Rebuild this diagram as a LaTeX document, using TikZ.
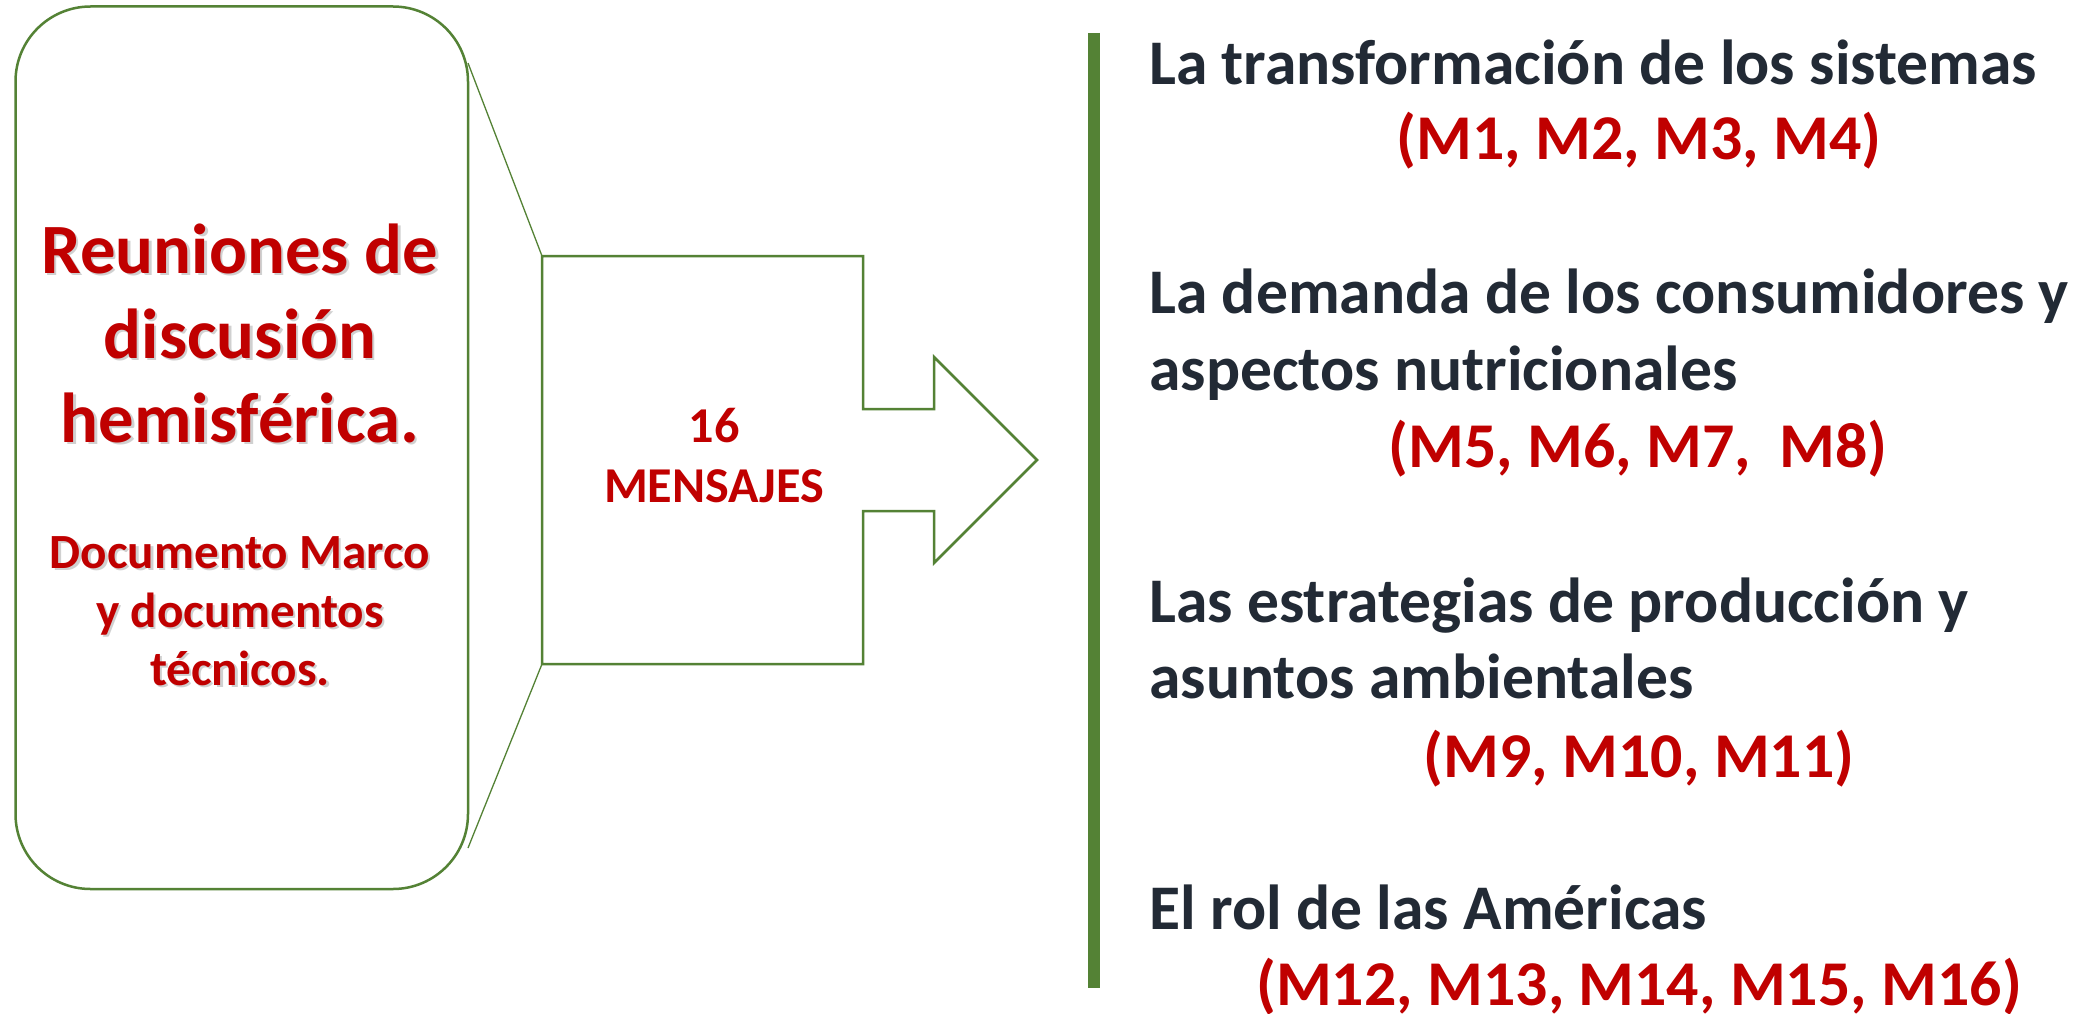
\documentclass[tikz,border=0pt]{standalone}
\usepackage{fontspec}
\setmainfont{Carlito}
\definecolor{redtxt}{HTML}{C00000}
\definecolor{darktxt}{HTML}{222A35}
\definecolor{grn}{HTML}{548235}
\newcommand{\shline}[4]{%
  \node[#3, text=black!60, opacity=0.3, xshift=2.2pt, yshift=-2.2pt] at (#2) {#4};
  \node[#3] (#1) at (#2) {#4};}
\begin{document}
\begin{tikzpicture}[x=1pt,y=-1pt,
  outl/.style={draw=grn, line width=2.5pt, line join=miter},
  thinl/.style={draw=grn, line width=1.3pt},
  redbig/.style={font=\fontsize{70.7}{85}\selectfont\bfseries, text=redtxt, anchor=base, inner sep=0pt},
  redmid/.style={font=\fontsize{49.2}{60}\selectfont\bfseries, text=redtxt, anchor=base, inner sep=0pt},
  redarr/.style={font=\fontsize{50.2}{61}\selectfont\bfseries, text=redtxt, anchor=base, inner sep=0pt},
  darkline/.style={font=\fontsize{63.6}{77}\selectfont\bfseries, text=darktxt, anchor=base west, inner sep=0pt},
  redlist/.style={font=\fontsize{63.8}{77}\selectfont\bfseries, text=redtxt, anchor=base, inner sep=0pt}]
\useasboundingbox (0,0) rectangle (2088,1014);
\fill[white] (0,0) rectangle (2088,1014);

% left rounded box
\node[outl, rounded corners=75pt, minimum width=452.5pt, minimum height=882.5pt, inner sep=0pt] (box) at (241.75,447.75) {};

% callout arrow shape
\coordinate (ctop) at (542,256);
\coordinate (cbot) at (542,664);
\coordinate (tip) at (1037,460);
\draw[outl] (ctop) -- (863,256) -- (863,409) -- (934,409) -- (934,357) -- (tip)
  -- (934,563) -- (934,511) -- (863,511) -- (863,664) -- (cbot) -- cycle;

% callout lines from the box
\coordinate (boxA) at (468,63);
\coordinate (boxB) at (468,848);
\draw[thinl] (boxA) -- (ctop);
\draw[thinl] (cbot) -- (boxB);

% left texts
\shline{l1}{240,273}{redbig}{Reuniones de}
\shline{l2}{240,358}{redbig}{discusión}
\shline{l3}{240,442}{redbig}{hemisférica.}
\shline{l4}{240,568}{redmid}{Documento Marco}
\shline{l5}{240,627}{redmid}{y documentos}
\shline{l6}{240,685}{redmid}{técnicos.}

% arrow text
\node[redarr] (n16) at (714,442) {16};
\node[redarr] (nmen) at (714,502) {MENSAJES};

% green bar
\coordinate (barT) at (1093.5,33);
\coordinate (barB) at (1093.5,988);
\draw[grn, line width=12pt] (barT) -- (barB);

% right texts
\node[darkline] (t1) at (1149,85) {La transformación de los sistemas};
\node[redlist] (m1) at (1639,160) {(M1, M2, M3, M4)};
\node[darkline] (t2a) at (1149,313) {La demanda de los consumidores y};
\node[darkline] (t2b) at (1149,390) {aspectos nutricionales};
\node[redlist] (m2) at (1638,467) {(M5, M6, M7,\ \ M8)};
\node[darkline] (t3a) at (1149,622) {Las estrategias de producción y};
\node[darkline] (t3b) at (1149,698) {asuntos ambientales};
\node[redlist] (m3) at (1639,777) {(M9, M10, M11)};
\node[darkline] (t4) at (1149,929) {El rol de las Américas};
\node[redlist] (m4) at (1639,1005) {(M12, M13, M14, M15, M16)};
\end{tikzpicture}
\end{document}
